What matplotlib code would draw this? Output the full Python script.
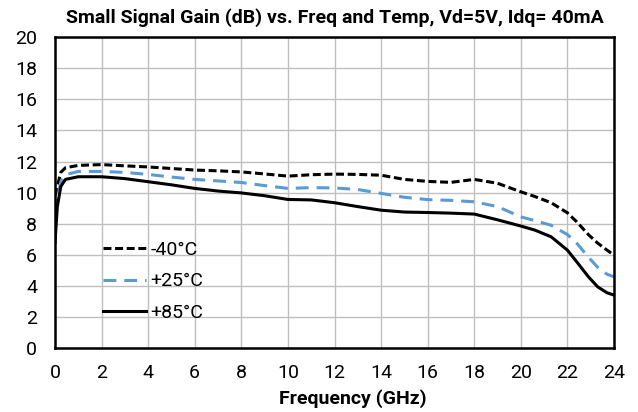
"""Small signal gain vs. frequency at three temperatures."""

import matplotlib

matplotlib.use("Agg")
import matplotlib.pyplot as plt  # noqa: E402

plt.rcParams["font.family"] = ["Roboto", "DejaVu Sans"]

# frequency (GHz) and gain (dB)
freq = [0.0, 0.1, 0.25, 0.45, 1.0, 2.0, 3.0, 4.0, 5.0, 6.0, 7.0, 8.0, 9.0,
        10.0, 11.0, 12.0, 13.0, 14.0, 15.0, 16.0, 17.0, 18.0, 19.0, 20.0,
        20.6, 21.3, 22.0, 22.4, 22.9, 23.3, 23.7, 24.0]
gain_m40 = [9.8, 10.4, 11.3, 11.6, 11.75, 11.8, 11.72, 11.65, 11.55, 11.45,
            11.4, 11.33, 11.2, 11.06, 11.15, 11.19, 11.17, 11.12, 10.85, 10.72,
            10.66, 10.85, 10.6, 10.05, 9.75, 9.35, 8.7, 8.12, 7.3, 6.75, 6.3,
            5.98]
gain_25 = [8.8, 9.6, 10.7, 11.15, 11.36, 11.36, 11.3, 11.17, 11.0, 10.85,
           10.75, 10.65, 10.45, 10.27, 10.32, 10.3, 10.2, 9.95, 9.7, 9.55,
           9.5, 9.41, 9.1, 8.44, 8.2, 7.9, 7.3, 6.75, 5.85, 5.2, 4.75, 4.59]
gain_85 = [6.8, 9.1, 10.4, 10.85, 11.02, 11.02, 10.9, 10.7, 10.5, 10.27,
           10.1, 9.98, 9.8, 9.56, 9.53, 9.35, 9.1, 8.87, 8.75, 8.72, 8.68,
           8.62, 8.25, 7.85, 7.59, 7.16, 6.3, 5.55, 4.59, 3.94, 3.56, 3.41]
labels = ["-40°C", "+25°C", "+85°C"]

TITLE = "Small Signal Gain (dB) vs. Freq and Temp, Vd=5V, Idq= 40mA"

fig = plt.figure(figsize=(6.38, 4.12), dpi=100)
ax = fig.add_axes([0.0862, 0.155, 0.8762, 0.755])

ax.plot(freq, gain_m40, color="black", lw=2.2, dashes=(2.6, 1.2), label=labels[0])
ax.plot(freq, gain_25, color="#5B9BD5", lw=2.2, dashes=(4.2, 2.6), label=labels[1])
ax.plot(freq, gain_85, color="black", lw=2.2, label=labels[2])

ax.set_xlim(0, 24)
ax.set_ylim(0, 20)
ax.set_xticks(range(0, 25, 2))
ax.set_yticks(range(0, 21, 2))
ax.grid(True, color="#BFBFBF", lw=1.0)
ax.set_axisbelow(True)
for side in ax.spines.values():
    side.set_linewidth(1.8)
ax.tick_params(axis="x", length=0, labelsize=14, pad=11.5)
ax.tick_params(axis="y", length=0, labelsize=14, pad=13)
ax.set_xlabel("Frequency (GHz)", fontsize=14, fontweight="bold", labelpad=5)
# Excel puts the axis title a bit right of the plot centre
ax.xaxis.label.set_x(0.533)
ax.set_title(TITLE, fontsize=14, fontweight="bold", pad=10)

ax.legend(loc="upper left", bbox_to_anchor=(0.086, 0.344), frameon=False,
          borderaxespad=0, borderpad=0, fontsize=14, handlelength=2.2,
          handletextpad=0.25, labelspacing=0.68)

fig.savefig("out.png", dpi=100)
